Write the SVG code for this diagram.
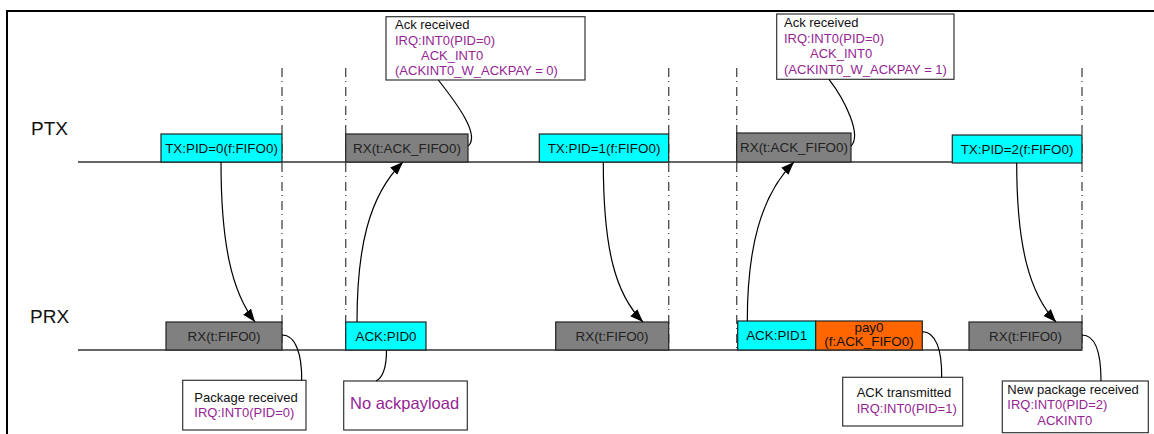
<svg xmlns="http://www.w3.org/2000/svg" width="1154" height="434" viewBox="0 0 1154 434">
<style>
text{font-family:"Liberation Sans",Arial,sans-serif;font-size:13px;fill:#111}
.lane{font-size:19px;fill:#111}
.b{font-size:13.4px}
.p{fill:#952595}
.mid{text-anchor:middle}
.cyan{fill:#00ffff;stroke:#222;stroke-width:1.2}
.gray{fill:#808080;stroke:#222;stroke-width:1.2}
.orange{fill:#ff6600;stroke:#222;stroke-width:1.2}
.note{fill:#fff;stroke:#333;stroke-width:1.2}
.tl{stroke:#333;stroke-width:1.3;fill:none}
.dd{stroke:#555;stroke-width:1.4;fill:none;stroke-dasharray:9 4 1 5}
.arr{stroke:#000;stroke-width:1.2;fill:none;marker-end:url(#ah)}
.cl{stroke:#000;stroke-width:1.2;fill:none}
</style>
<defs>
<marker id="ah" markerUnits="userSpaceOnUse" markerWidth="14" markerHeight="12" refX="13" refY="5" orient="auto">
<path d="M0,0 L13,5 L0,10 Z" fill="#000"/>
</marker>
</defs>
<rect width="1154" height="434" fill="#fff"/>
<path d="M7,434 V11 H1154" stroke="#000" stroke-width="2" fill="none"/>
<text class="lane" x="31" y="135">PTX</text>
<text class="lane" x="30" y="323">PRX</text>
<g id="timelines">
<line class="tl" x1="78" y1="162" x2="1082" y2="162"/>
<line class="tl" x1="78" y1="350" x2="1082" y2="350"/>
</g>
<g id="dividers">
<line class="dd" x1="282" y1="68" x2="282" y2="350"/>
<line class="dd" x1="345.7" y1="68" x2="345.7" y2="350"/>
<line class="dd" x1="668.7" y1="68" x2="668.7" y2="350"/>
<line class="dd" x1="736.7" y1="68" x2="736.7" y2="350"/>
<line class="dd" x1="1082" y1="68" x2="1082" y2="350"/>
</g>
<g id="ptx-tx0"><rect class="cyan" x="161" y="134" width="121" height="28"/><text class="mid b" x="221.5" y="152.7">TX:PID=0(f:FIFO0)</text></g>
<g id="ptx-rx1"><rect class="gray" x="345.7" y="134" width="122.3" height="28"/><text class="mid b" x="407" y="152.7" style="fill:#222">RX(t:ACK_FIFO0)</text></g>
<g id="ptx-tx1"><rect class="cyan" x="539.3" y="134" width="129.4" height="28"/><text class="mid b" x="604" y="152.7">TX:PID=1(f:FIFO0)</text></g>
<g id="ptx-rx2"><rect class="gray" x="736.7" y="133" width="114.3" height="29"/><text class="mid b" x="794" y="152.2" style="fill:#222">RX(t:ACK_FIFO0)</text></g>
<g id="ptx-tx2"><rect class="cyan" x="952.3" y="135" width="129.7" height="28"/><text class="mid b" x="1017" y="153.7">TX:PID=2(f:FIFO0)</text></g>
<g id="prx-rx0"><rect class="gray" x="166" y="322" width="116" height="28"/><text class="mid b" x="224" y="340.7" style="fill:#222">RX(t:FIFO0)</text></g>
<g id="prx-ack0"><rect class="cyan" x="345.7" y="322" width="80.3" height="28"/><text class="mid b" x="386" y="340.7">ACK:PID0</text></g>
<g id="prx-rx1"><rect class="gray" x="555.7" y="322" width="113" height="28"/><text class="mid b" x="612" y="340.7" style="fill:#222">RX(t:FIFO0)</text></g>
<g id="prx-ack1"><rect class="cyan" x="737.7" y="321" width="78" height="29"/><text class="mid b" x="776.7" y="340.2">ACK:PID1</text></g>
<g id="prx-pay0"><rect class="orange" x="815.7" y="321" width="106.6" height="29"/><text class="mid b" x="869" y="331.5">pay0</text><text class="mid b" x="869" y="346">(f:ACK_FIFO0)</text></g>
<g id="prx-rx2"><rect class="gray" x="969" y="322" width="113" height="28"/><text class="mid b" x="1025.5" y="340.7" style="fill:#222">RX(t:FIFO0)</text></g>
<g id="note-ack0"><rect class="note" x="386" y="16.7" width="199" height="63.3"/><text x="395" y="29">Ack received</text><text class="p" x="395" y="44.5">IRQ:INT0(PID=0)</text><text class="p" x="421" y="59.5">ACK_INT0</text><text class="p" x="395" y="75">(ACKINT0_W_ACKPAY = 0)</text></g>
<g id="note-ack1"><rect class="note" x="776.7" y="14" width="177.3" height="65.3"/><text x="784" y="27.3">Ack received</text><text class="p" x="784" y="43">IRQ:INT0(PID=0)</text><text class="p" x="810" y="58">ACK_INT0</text><text class="p" x="784" y="73.5">(ACKINT0_W_ACKPAY = 1)</text></g>
<g id="note-pkg"><rect class="note" x="182.7" y="380.3" width="123.3" height="49.7"/><text x="194.3" y="401.7">Package received</text><text class="p" x="194.3" y="416.7">IRQ:INT0(PID=0)</text></g>
<g id="note-noack"><rect class="note" x="343.7" y="381" width="123.6" height="49"/><text class="p" x="350" y="408.5" style="font-size:16.5px">No ackpayload</text></g>
<g id="note-acktx"><rect class="note" x="842.7" y="377.3" width="120" height="48.7"/><text x="856.7" y="396.7">ACK transmitted</text><text class="p" x="856.7" y="412.7">IRQ:INT0(PID=1)</text></g>
<g id="note-newpkg"><rect class="note" x="1002.3" y="381" width="146" height="51.7"/><text x="1007.3" y="393.5">New package received</text><text class="p" x="1007.3" y="409.3">IRQ:INT0(PID=2)</text><text class="p" x="1037.3" y="425">ACKINT0</text></g>
<g id="connectors">
<path class="arr" d="M221,162 C221,245 232,292 255,322"/>
<path class="arr" d="M357,322 C357,250 368,196 403,162"/>
<path class="arr" d="M603.3,162 C603.3,248 615,294 643,322"/>
<path class="arr" d="M747.3,321 C747.3,250 760,196 794,162"/>
<path class="arr" d="M1016.7,163 C1016.7,248 1030,294 1056,322"/>
<path class="cl" d="M438.3,80 C458,105 480,135 468.3,146"/>
<path class="cl" d="M829,79.3 C845,100 862,135 851,146"/>
<path class="cl" d="M282,335 C296,335 302,355 301.7,380.3"/>
<path class="cl" d="M386.5,350 C386.5,370 382,378 376,381"/>
<path class="cl" d="M922.3,331.7 C936,332 942,350 941.7,377.3"/>
<path class="cl" d="M1082,335 C1096,335 1101,355 1101,381"/>
</g>
</svg>
